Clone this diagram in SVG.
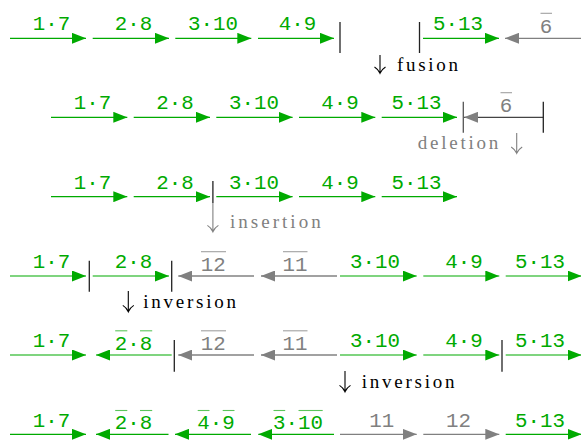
<svg xmlns="http://www.w3.org/2000/svg" width="581" height="440" viewBox="0 0 581 440">
<style>
.g{stroke:#00aa00;stroke-width:1.2;fill:none}
.gr{stroke:#808080;stroke-width:1.2;fill:none}
.gd{stroke:#444;stroke-width:1.2;fill:none}
.lg{font-family:"Liberation Mono",monospace;font-size:20.8px;fill:#00aa00;text-anchor:middle}
.lgr{font-family:"Liberation Mono",monospace;font-size:20.8px;fill:#808080;text-anchor:middle}
.ol{stroke:#5cc45c;stroke-width:1.1}
.olg{stroke:#a0a0a0;stroke-width:1.1}
.bar{stroke:#222;stroke-width:1.3}
.op{font-family:"Liberation Serif",serif;font-size:19px;fill:#000}
.opg{font-family:"Liberation Serif",serif;font-size:19px;fill:#808080}
.da{stroke:#000;stroke-width:1.1;fill:none}
.dag{stroke:#808080;stroke-width:1.1;fill:none}
</style>
<defs>
<marker id="hg" viewBox="0 0 14 11" refX="14" refY="5.5" markerWidth="14" markerHeight="11" markerUnits="userSpaceOnUse" orient="auto"><path d="M0,0 L14,5.5 L0,11 z" fill="#00aa00"/></marker>
<marker id="hgr" viewBox="0 0 14 11" refX="14" refY="5.5" markerWidth="14" markerHeight="11" markerUnits="userSpaceOnUse" orient="auto"><path d="M0,0 L14,5.5 L0,11 z" fill="#808080"/></marker>
</defs>

<!-- Row 1 -->
<g id="r1-1-7"><line class="g" x1="10" y1="38.3" x2="86" y2="38.3" marker-end="url(#hg)"/><text class="lg" x="51.5" y="30.3">1·7</text></g>
<g id="r1-2-8"><line class="g" x1="92.7" y1="38.3" x2="169" y2="38.3" marker-end="url(#hg)"/><text class="lg" x="133.5" y="30.3">2·8</text></g>
<g id="r1-3-10"><line class="g" x1="175.3" y1="38.3" x2="251.3" y2="38.3" marker-end="url(#hg)"/><text class="lg" x="213" y="30.3">3·10</text></g>
<g id="r1-4-9"><line class="g" x1="258" y1="38.3" x2="334" y2="38.3" marker-end="url(#hg)"/><text class="lg" x="297.5" y="30.3">4·9</text></g>
<g id="r1-5-13"><line class="g" x1="423" y1="38.3" x2="499" y2="38.3" marker-end="url(#hg)"/><text class="lg" x="458" y="30.3">5·13</text></g>
<g id="r1-6"><line class="gr" x1="582" y1="38.3" x2="505" y2="38.3" marker-end="url(#hgr)"/><text class="lgr" x="546" y="33.3">6</text><line class="olg" x1="540.5" y1="13.3" x2="552" y2="13.3"/></g>

<!-- Row 2 -->
<g id="r2-1-7"><line class="g" x1="51" y1="117.3" x2="127.3" y2="117.3" marker-end="url(#hg)"/><text class="lg" x="92.5" y="109.3">1·7</text></g>
<g id="r2-2-8"><line class="g" x1="133.7" y1="117.3" x2="210" y2="117.3" marker-end="url(#hg)"/><text class="lg" x="175" y="109.3">2·8</text></g>
<g id="r2-3-10"><line class="g" x1="216.3" y1="117.3" x2="292.6" y2="117.3" marker-end="url(#hg)"/><text class="lg" x="254" y="109.3">3·10</text></g>
<g id="r2-4-9"><line class="g" x1="299" y1="117.3" x2="375.3" y2="117.3" marker-end="url(#hg)"/><text class="lg" x="340" y="109.3">4·9</text></g>
<g id="r2-5-13"><line class="g" x1="381.7" y1="117.3" x2="457" y2="117.3" marker-end="url(#hg)"/><text class="lg" x="416.5" y="109.3">5·13</text></g>
<g id="r2-6"><line class="gd" x1="543.3" y1="117.3" x2="464" y2="117.3" marker-end="url(#hgr)"/><text class="lgr" x="506" y="112.3">6</text><line class="olg" x1="500.5" y1="92.7" x2="512" y2="92.7"/></g>

<!-- Row 3 -->
<g id="r3-1-7"><line class="g" x1="51" y1="196.7" x2="127.3" y2="196.7" marker-end="url(#hg)"/><text class="lg" x="92.5" y="188.5">1·7</text></g>
<g id="r3-2-8"><line class="g" x1="133.7" y1="196.7" x2="210" y2="196.7" marker-end="url(#hg)"/><text class="lg" x="175" y="188.5">2·8</text></g>
<g id="r3-3-10"><line class="g" x1="216.3" y1="196.7" x2="292.6" y2="196.7" marker-end="url(#hg)"/><text class="lg" x="254" y="188.5">3·10</text></g>
<g id="r3-4-9"><line class="g" x1="299" y1="196.7" x2="375.3" y2="196.7" marker-end="url(#hg)"/><text class="lg" x="340" y="188.5">4·9</text></g>
<g id="r3-5-13"><line class="g" x1="381.7" y1="196.7" x2="457" y2="196.7" marker-end="url(#hg)"/><text class="lg" x="416.5" y="188.5">5·13</text></g>

<!-- Row 4 -->
<g id="r4-1-7"><line class="g" x1="10" y1="276" x2="86" y2="276" marker-end="url(#hg)"/><text class="lg" x="51.5" y="268.2">1·7</text></g>
<g id="r4-2-8"><line class="g" x1="92.7" y1="276" x2="169" y2="276" marker-end="url(#hg)"/><text class="lg" x="133.5" y="268.2">2·8</text></g>
<g id="r4-12"><line class="gd" x1="254" y1="276" x2="178.3" y2="276" marker-end="url(#hgr)"/><text class="lgr" x="213.3" y="270.7">12</text><line class="olg" x1="201" y1="251.7" x2="226" y2="251.7"/></g>
<g id="r4-11"><line class="gd" x1="337" y1="276" x2="261" y2="276" marker-end="url(#hgr)"/><text class="lgr" x="295" y="270.7">11</text><line class="olg" x1="283" y1="251.7" x2="307.5" y2="251.7"/></g>
<g id="r4-3-10"><line class="g" x1="340" y1="276" x2="416.7" y2="276" marker-end="url(#hg)"/><text class="lg" x="375" y="268.2">3·10</text></g>
<g id="r4-4-9"><line class="g" x1="423.3" y1="276" x2="499.3" y2="276" marker-end="url(#hg)"/><text class="lg" x="464" y="268.2">4·9</text></g>
<g id="r4-5-13"><line class="g" x1="505.7" y1="276" x2="581.5" y2="276" marker-end="url(#hg)"/><text class="lg" x="540" y="268.2">5·13</text></g>

<!-- Row 5 -->
<g id="r5-1-7"><line class="g" x1="10" y1="355" x2="86" y2="355" marker-end="url(#hg)"/><text class="lg" x="51.5" y="347.2">1·7</text></g>
<g id="r5-2-8"><line class="g" x1="171.7" y1="355" x2="96" y2="355" marker-end="url(#hg)"/><text class="lg" x="133.5" y="349.5">2·8</text><line class="ol" x1="115.2" y1="330.8" x2="127.3" y2="330.8"/><line class="ol" x1="140" y1="330.8" x2="152.2" y2="330.8"/></g>
<g id="r5-12"><line class="gd" x1="254" y1="355" x2="178.3" y2="355" marker-end="url(#hgr)"/><text class="lgr" x="213.3" y="349.5">12</text><line class="olg" x1="201" y1="330.8" x2="226" y2="330.8"/></g>
<g id="r5-11"><line class="gd" x1="337" y1="355" x2="261" y2="355" marker-end="url(#hgr)"/><text class="lgr" x="295" y="349.5">11</text><line class="olg" x1="283" y1="330.8" x2="307.5" y2="330.8"/></g>
<g id="r5-3-10"><line class="g" x1="340" y1="355" x2="416.7" y2="355" marker-end="url(#hg)"/><text class="lg" x="375" y="347.2">3·10</text></g>
<g id="r5-4-9"><line class="g" x1="423.3" y1="355" x2="499.3" y2="355" marker-end="url(#hg)"/><text class="lg" x="464" y="347.2">4·9</text></g>
<g id="r5-5-13"><line class="g" x1="505.7" y1="355" x2="581.5" y2="355" marker-end="url(#hg)"/><text class="lg" x="540" y="347.2">5·13</text></g>

<!-- Row 6 -->
<g id="r6-1-7"><line class="g" x1="10" y1="434.3" x2="86" y2="434.3" marker-end="url(#hg)"/><text class="lg" x="51.5" y="426.5">1·7</text></g>
<g id="r6-2-8"><line class="g" x1="168.5" y1="434.3" x2="96" y2="434.3" marker-end="url(#hg)"/><text class="lg" x="133.5" y="428.5">2·8</text><line class="ol" x1="115.2" y1="410.5" x2="127.3" y2="410.5"/><line class="ol" x1="140" y1="410.5" x2="152.2" y2="410.5"/></g>
<g id="r6-4-9"><line class="g" x1="251" y1="434.3" x2="175" y2="434.3" marker-end="url(#hg)"/><text class="lg" x="216" y="428.5">4·9</text><line class="ol" x1="197.7" y1="410.5" x2="209.5" y2="410.5"/><line class="ol" x1="222.7" y1="410.5" x2="234.5" y2="410.5"/></g>
<g id="r6-3-10"><line class="g" x1="334" y1="434.3" x2="258.3" y2="434.3" marker-end="url(#hg)"/><text class="lg" x="298" y="428.5">3·10</text><line class="ol" x1="273.5" y1="410.5" x2="285.2" y2="410.5"/><line class="ol" x1="298.5" y1="410.5" x2="322.7" y2="410.5"/></g>
<g id="r6-11"><line class="gr" x1="340" y1="434.3" x2="416.7" y2="434.3" marker-end="url(#hgr)"/><text class="lgr" x="381.7" y="426.5">11</text></g>
<g id="r6-12"><line class="gr" x1="423.3" y1="434.3" x2="499.3" y2="434.3" marker-end="url(#hgr)"/><text class="lgr" x="458.5" y="426.5">12</text></g>
<g id="r6-5-13"><line class="g" x1="505.7" y1="434.3" x2="581.5" y2="434.3" marker-end="url(#hg)"/><text class="lg" x="540" y="426.5">5·13</text></g>

<!-- connectors: breakpoints and operation arrows -->
<g id="connectors">
<line class="bar" x1="340" y1="22" x2="340" y2="53"/>
<line class="bar" x1="419.5" y1="22" x2="419.5" y2="53"/>
<path class="da" d="M380,55 V73.3 M374.5,67 Q378.5,69.5 380,73.3 Q381.5,69.5 385.5,67"/>
<line class="bar" x1="463.3" y1="101.7" x2="463.3" y2="132.7" style="stroke:#555"/>
<line class="bar" x1="543.3" y1="101.7" x2="543.3" y2="132.7"/>
<path class="dag" d="M516.7,133 V153.3 M511.2,147 Q515.2,149.5 516.7,153.3 Q518.2,149.5 522.2,147"/>
<line class="bar" x1="212.9" y1="181" x2="212.9" y2="203"/>
<path class="dag" d="M212.9,203 V231.7 M207.4,225.4 Q211.4,227.9 212.9,231.7 Q214.4,227.9 218.4,225.4"/>
<line class="bar" x1="89.3" y1="260.7" x2="89.3" y2="291.7"/>
<line class="bar" x1="171.7" y1="260.7" x2="171.7" y2="291.7"/>
<path class="da" d="M128.3,291 V311.7 M122.8,305.4 Q126.8,307.9 128.3,311.7 Q129.8,307.9 133.8,305.4"/>
<line class="bar" x1="174.3" y1="340" x2="174.3" y2="371.7"/>
<line class="bar" x1="502" y1="340" x2="502" y2="371.7"/>
<path class="da" d="M345,371 V391.7 M339.5,385.4 Q343.5,387.9 345,391.7 Q346.5,387.9 350.5,385.4"/>
</g>

<g id="operation-labels">
<text class="op" x="397" y="70.5" textLength="61" lengthAdjust="spacing">fusion</text>
<text class="opg" x="417.7" y="149" textLength="80.6" lengthAdjust="spacing">deletion</text>
<text class="opg" x="230" y="228.3" textLength="90.7" lengthAdjust="spacing">insertion</text>
<text class="op" x="143.3" y="307.7" textLength="92.7" lengthAdjust="spacing">inversion</text>
<text class="op" x="361.7" y="387.7" textLength="92.7" lengthAdjust="spacing">inversion</text>
</g>
</svg>
